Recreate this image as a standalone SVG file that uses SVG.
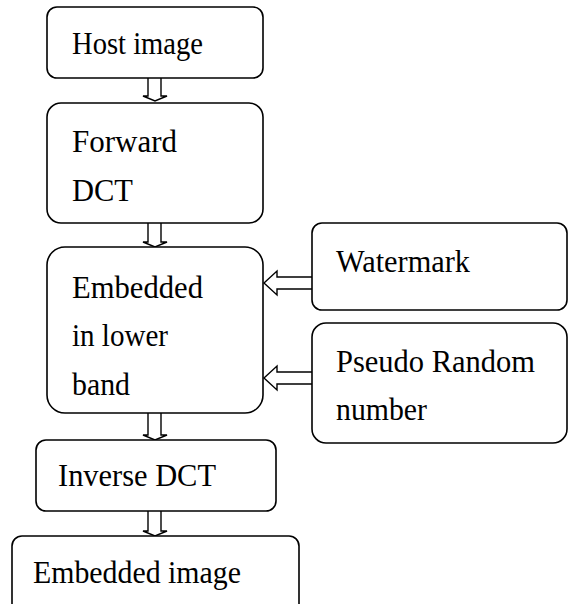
<svg xmlns="http://www.w3.org/2000/svg" width="568" height="604" viewBox="0 0 568 604">
<style>
.box{fill:#fff;stroke:#000;stroke-width:1.6}
.arr{fill:#fff;stroke:#000;stroke-width:1.4;stroke-linejoin:miter}
text{font-family:"Liberation Serif","Times New Roman",serif;font-size:32px;fill:#000}
</style>
<rect width="568" height="604" fill="#fff"/>
<g id="connectors">
<path class="arr" d="M148,78 V96 H143 L155,101 L167,96 H161 V78"/>
<path class="arr" d="M148,223 V242 H143 L155,247 L167,242 H161 V223"/>
<path class="arr" d="M148,413 V435 H143 L155,440 L167,435 H161 V413"/>
<path class="arr" d="M148,511 V531 H143 L155,536 L167,531 H161 V511"/>
<path class="arr" d="M312,277 H277 V271 L264,283 L277,295 V289 H312"/>
<path class="arr" d="M312,372 H277 V366 L264,378 L277,390 V384 H312"/>
</g>
<g id="host"><rect class="box" x="47" y="7" width="216" height="71" rx="10"/><text x="72" y="54" textLength="131" lengthAdjust="spacingAndGlyphs">Host image</text></g>
<g id="fdct"><rect class="box" x="47" y="103" width="216" height="120" rx="14"/><text x="72" y="152" textLength="105" lengthAdjust="spacingAndGlyphs">Forward</text><text x="72" y="201" textLength="61" lengthAdjust="spacingAndGlyphs">DCT</text></g>
<g id="embed"><rect class="box" x="47" y="247" width="216" height="166" rx="18"/><text x="72" y="298" textLength="131" lengthAdjust="spacingAndGlyphs">Embedded</text><text x="72" y="346" textLength="96" lengthAdjust="spacingAndGlyphs">in lower</text><text x="72" y="395" textLength="58" lengthAdjust="spacingAndGlyphs">band</text></g>
<g id="watermark"><rect class="box" x="312" y="223" width="255" height="87" rx="10"/><text x="336" y="272" textLength="134" lengthAdjust="spacingAndGlyphs">Watermark</text></g>
<g id="prn"><rect class="box" x="312" y="323" width="255" height="120" rx="14"/><text x="336" y="372" textLength="199" lengthAdjust="spacingAndGlyphs">Pseudo Random</text><text x="336" y="420" textLength="91" lengthAdjust="spacingAndGlyphs">number</text></g>
<g id="idct"><rect class="box" x="36" y="440" width="240" height="71" rx="10"/><text x="58" y="486" textLength="158" lengthAdjust="spacingAndGlyphs">Inverse DCT</text></g>
<g id="out"><rect class="box" x="12" y="536" width="287" height="90" rx="10"/><text x="33" y="583" textLength="208" lengthAdjust="spacingAndGlyphs">Embedded image</text></g>
</svg>
